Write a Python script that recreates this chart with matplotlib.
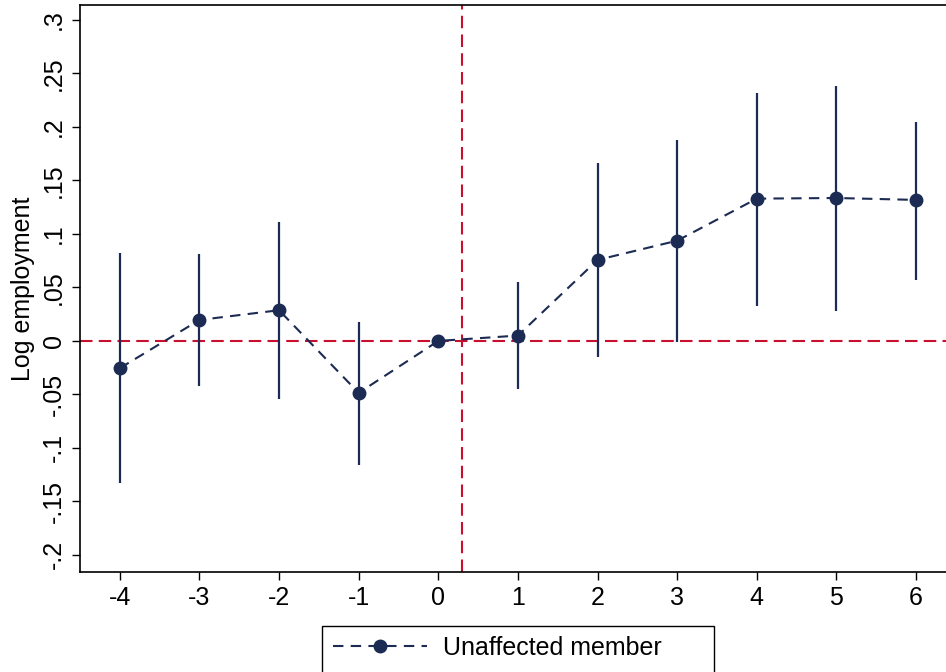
import matplotlib
matplotlib.use("Agg")
import matplotlib.pyplot as plt
import matplotlib.patches as patches
import numpy as np

plt.rcParams['font.family'] = ['Liberation Sans', 'DejaVu Sans']

# event time, point estimates and 95% CI bounds
periods = [-4, -3, -2, -1, 0, 1, 2, 3, 4, 5, 6]
coef = [-0.0255, 0.0196, 0.0287, -0.0486, 0.0, 0.005, 0.0757, 0.0937, 0.133, 0.1336, 0.1318]
ci_low = [-0.133, -0.042, -0.054, -0.116, 0.0, -0.0446, -0.0153, -0.001, 0.0327, 0.028, 0.057]
ci_high = [0.082, 0.081, 0.111, 0.018, 0.0, 0.055, 0.166, 0.188, 0.232, 0.238, 0.205]

yticks = [-0.2, -0.15, -0.1, -0.05, 0, 0.05, 0.1, 0.15, 0.2, 0.25, 0.3]
ytick_labels = ['-.2', '-.15', '-.1', '-.05', '0', '.05', '.1', '.15', '.2', '.25', '.3']
event_line = 0.3
series_name = 'Unaffected member'

navy = '#1c2b53'
red = '#c8102e'
fs = 18

fig = plt.figure(figsize=(9.46, 6.72), dpi=100)
ax = fig.add_axes([80/946, 1 - 572/672, 1 - 80/946 + 0.002, (572 - 5)/672])

# reference lines
ax.axhline(0, color=red, lw=1.5, dashes=(6, 3), zorder=1)
ax.axvline(event_line, color=red, lw=1.5, dashes=(6, 3), zorder=1)

# confidence intervals
ax.vlines(periods, ci_low, ci_high, color=navy, lw=1.6, zorder=2)

# point estimates
ax.plot(periods, coef, color=navy, lw=1.5, dashes=(5, 3.5), marker='o',
        markersize=9, label=series_name, zorder=3)

ax.set_xlim(-4.5, 6.4)
ax.set_ylim(-0.216, 0.314)
ax.set_xticks(periods)
ax.set_xticklabels([str(p) for p in periods], fontsize=fs)
ax.set_yticks(yticks)
ax.set_yticklabels(ytick_labels, fontsize=fs, rotation=90, va='center')
ax.tick_params(direction='out', length=6, width=1, color='black', pad=4)
ax.set_ylabel('Log employment', fontsize=fs, labelpad=5)

for s in ['left', 'top', 'bottom']:
    ax.spines[s].set_linewidth(1.2)
ax.spines['right'].set_visible(False)

# legend (Stata style box, wider on the right, running off the bottom edge)
leg = fig.legend(loc='center left', bbox_to_anchor=(333/946, 1 - 648/672),
                 fontsize=fs, frameon=False, handlelength=3.75,
                 handletextpad=0.65, borderpad=0, borderaxespad=0)
box = patches.Rectangle((322/946, -0.02), (714 - 322)/946, 0.02 + (672 - 626)/672,
                        transform=fig.transFigure, fill=False, edgecolor='black',
                        lw=1.0, clip_on=False)
fig.add_artist(box)

fig.savefig('out.png', dpi=100)
